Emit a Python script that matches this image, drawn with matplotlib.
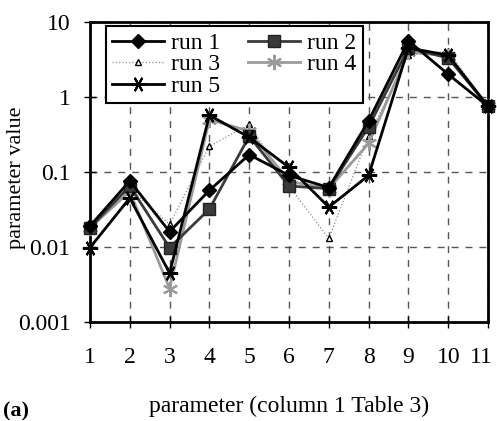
import matplotlib
matplotlib.use("Agg")
import matplotlib.pyplot as plt
import matplotlib.transforms as mtransforms
from matplotlib.ticker import FixedLocator, FixedFormatter

plt.rcParams['font.family'] = ['Liberation Serif', 'DejaVu Serif']

# parameter index (column 1 of Table 3)
params = [1, 2, 3, 4, 5, 6, 7, 8, 9, 10, 11]

run1 = [0.019, 0.076, 0.016, 0.057, 0.17, 0.09, 0.062, 0.48, 5.6, 2.0, 0.75]
run2 = [0.018, 0.065, 0.0098, 0.032, 0.30, 0.065, 0.060, 0.40, 4.5, 3.3, 0.75]
run3 = [0.018, 0.060, 0.020, 0.22, 0.43, 0.065, 0.013, 0.30, 3.6, 4.1, 0.75]
run4 = [0.018, 0.055, 0.0028, 0.50, 0.35, 0.075, 0.060, 0.24, 4.0, 3.5, 0.75]
run5 = [0.0098, 0.045, 0.0045, 0.57, 0.29, 0.115, 0.034, 0.09, 4.5, 3.6, 0.75]

ytick_vals = [0.001, 0.01, 0.1, 1, 10]
ytick_labels = ["0.001", "0.01", "0.1", "1", "10"]

fig = plt.figure(figsize=(4.97, 4.21), dpi=100)
ax = fig.add_axes([0.181, 0.235, 0.801, 0.713])

l1, = ax.plot(params, run1, color='black', lw=2, marker='D', ms=7,
              mfc='black', mec='black', label='run 1', clip_on=False, zorder=5)
l2, = ax.plot(params, run2, color='#3a3a3a', lw=2, marker='s', ms=8,
              mfc='#3a3a3a', mec='#222222', label='run 2', clip_on=False, zorder=4)
l3, = ax.plot(params, run3, color='#8a8a8a', lw=0.9, ls=':', marker='^', ms=5,
              mfc='white', mec='black', mew=1, label='run 3', clip_on=False, zorder=3)
l4, = ax.plot(params, run4, color='#9a9a9a', lw=2, marker=(6, 2, 0), ms=11,
              mec='#9a9a9a', mew=1.5, label='run 4', clip_on=False, zorder=3)
l5, = ax.plot(params, run5, color='black', lw=2, marker=(6, 2, 90), ms=11,
              mec='black', mew=1.5, label='run 5', clip_on=False, zorder=6)

ax.set_yscale('log')
ax.set_ylim(0.001, 10)
ax.set_xlim(1, 11)
ax.yaxis.set_major_locator(FixedLocator(ytick_vals))
ax.yaxis.set_major_formatter(FixedFormatter(ytick_labels))
ax.yaxis.set_minor_locator(FixedLocator([]))
ax.set_xticks(params)
ax.set_xticklabels([str(p) for p in params])

ax.tick_params(axis='both', direction='inout', length=8, width=1,
               labelsize=17)
ax.tick_params(axis='x', pad=14)
ax.tick_params(axis='y', pad=10)

# nudge the last x label so it stays inside the figure
last = ax.get_xticklabels()[-1]
last.set_transform(last.get_transform() +
                   mtransforms.ScaledTranslation(-5 / 72, 0, fig.dpi_scale_trans))

ax.grid(True, which='major', color='#555555', ls=(0, (5, 5)), lw=1)

for s in ax.spines.values():
    s.set_linewidth(2)

ax.set_xlabel('parameter (column 1 Table 3)', fontsize=17, labelpad=20)
ax.set_ylabel('parameter value', fontsize=16)
ax.yaxis.set_label_coords(-0.16, 0.48)

# row-major order as in the original legend
handles = [l1, l3, l5, l2, l4]
labels = [h.get_label() for h in handles]
leg = ax.legend(handles, labels, ncol=2, loc='upper left',
                bbox_to_anchor=(0.04, 0.985),
                fontsize=17, frameon=True, fancybox=False, framealpha=1,
                edgecolor='black', handlelength=2.2, labelspacing=0.0,
                columnspacing=1.2, handletextpad=0.3, borderpad=0.25,
                borderaxespad=0)
leg.get_frame().set_linewidth(1.5)
leg.set_zorder(10)

fig.text(0.006, 0.01, '(a)', fontsize=16, fontweight='bold')

fig.savefig('out.png', dpi=100)
